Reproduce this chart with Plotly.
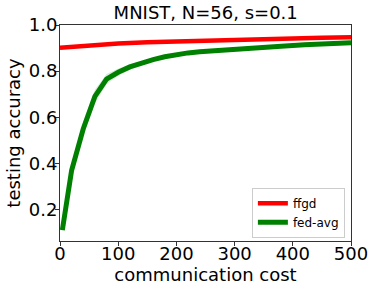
import plotly.graph_objects as go

# data
fedavg_x = [4, 20, 40, 60, 80, 100, 120, 140, 160, 180, 200, 220, 240, 260, 280, 300, 340, 380, 420, 460, 500]
fedavg_y = [0.11, 0.37, 0.55, 0.69, 0.765, 0.795, 0.818, 0.835, 0.85, 0.862, 0.872, 0.879, 0.884,
            0.888, 0.892, 0.896, 0.902, 0.908, 0.914, 0.919, 0.923]
fedavg_err = [0.01, 0.025, 0.03, 0.03, 0.022, 0.016, 0.012, 0.01, 0.008, 0.007, 0.006, 0.005, 0.005,
              0.004, 0.004, 0.004, 0.003, 0.003, 0.003, 0.003, 0.003]
ffgd_x = [0, 50, 100, 150, 200, 250, 300, 350, 400, 450, 500]
ffgd_y = [0.901, 0.912, 0.920, 0.925, 0.929, 0.933, 0.936, 0.939, 0.942, 0.945, 0.947]
ffgd_err = [0.003, 0.003, 0.003, 0.003, 0.003, 0.003, 0.003, 0.003, 0.003, 0.003, 0.003]

title = "MNIST, N=56, s=0.1"
x_title = "communication cost"
y_title = "testing accuracy"
x_ticks = [0, 100, 200, 300, 400, 500]
y_ticks = [0.2, 0.4, 0.6, 0.8, 1.0]

FONT = "DejaVu Sans"

def band(x, y, e, color, name):
    up = [a + b for a, b in zip(y, e)]
    lo = [a - b for a, b in zip(y, e)]
    return go.Scatter(x=list(x) + list(x)[::-1], y=up + lo[::-1], fill="toself",
                      fillcolor=color, line=dict(width=0), hoverinfo="skip",
                      showlegend=False, name=name + " band")

fig = go.Figure()
fig.add_trace(band(ffgd_x, ffgd_y, ffgd_err, "rgba(255,0,0,0.15)", "ffgd"))
fig.add_trace(band(fedavg_x, fedavg_y, fedavg_err, "rgba(0,128,0,0.15)", "fed-avg"))
fig.add_trace(go.Scatter(x=ffgd_x, y=ffgd_y, mode="lines", name="ffgd",
                         line=dict(color="#ff0000", width=4.5)))
fig.add_trace(go.Scatter(x=fedavg_x, y=fedavg_y, mode="lines", name="fed-avg",
                         line=dict(color="#008000", width=5)))

axis_common = dict(showgrid=False, zeroline=False, showline=True, linecolor="#333",
                   linewidth=1, mirror=True, ticks="outside", ticklen=4, tickcolor="#333",
                   automargin=False,
                   tickfont=dict(family=FONT, size=18, color="black"))

fig.update_layout(
    width=374, height=290,
    margin=dict(l=60, r=23, t=25, b=49),
    paper_bgcolor="white", plot_bgcolor="white",
    title=dict(text=title, x=0.55, xanchor="center", y=0.955, yanchor="middle",
               font=dict(family=FONT, size=18, color="black")),
    xaxis=dict(range=[0, 500], tickvals=x_ticks, ticklabelstandoff=-8,
               title=dict(text=x_title, font=dict(family=FONT, size=18, color="black"), standoff=1),
               **axis_common),
    yaxis=dict(range=[0.063, 1.0], tickvals=y_ticks, tickformat=".1f", ticklabelstandoff=-6,
               title=dict(text=y_title, font=dict(family=FONT, size=18, color="black"), standoff=3),
               **axis_common),
    legend=dict(x=0.979, y=0.015, xanchor="right", yanchor="bottom",
                bgcolor="white", bordercolor="#ccc", borderwidth=1,
                font=dict(family=FONT, size=12, color="black"), itemwidth=30,
                tracegroupgap=0),
)

fig.write_html("out.html", config={"displayModeBar": False},
               post_script="document.body.style.margin='0';")
